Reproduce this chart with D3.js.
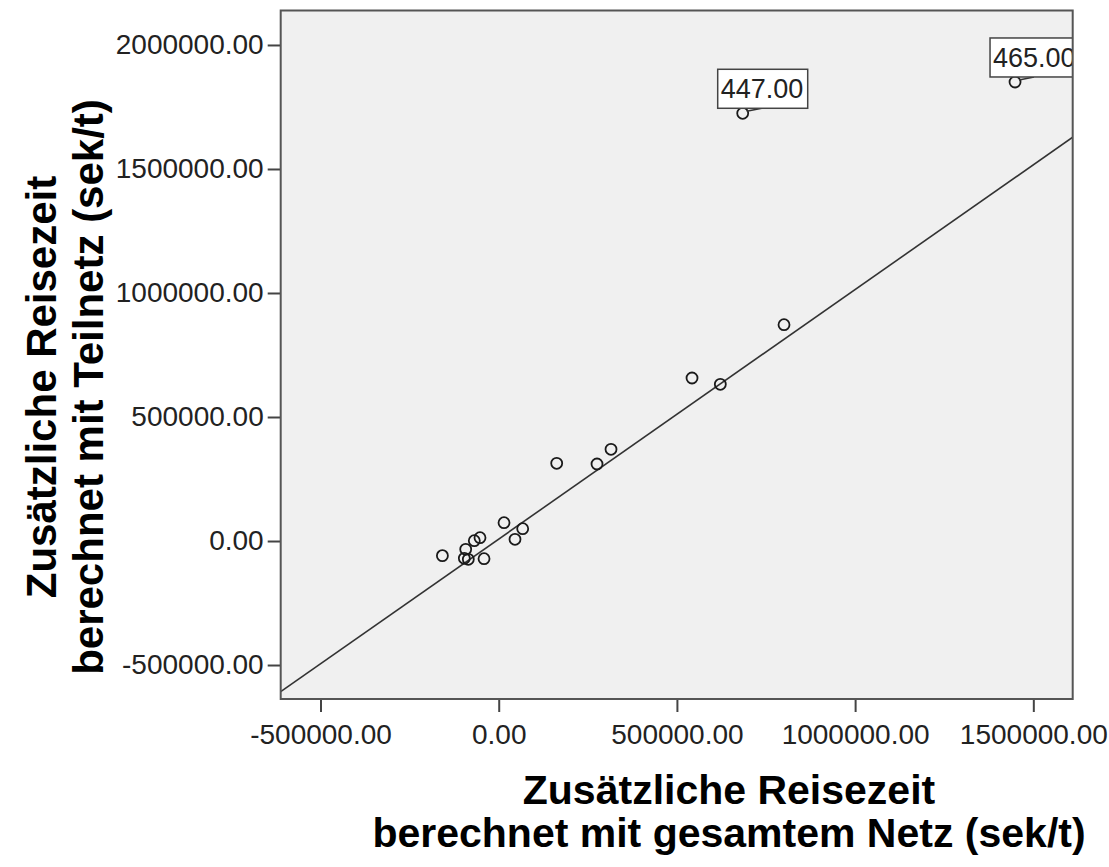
<!DOCTYPE html>
<html>
<head>
<meta charset="utf-8">
<script src="https://cdn.jsdelivr.net/npm/d3@7"></script>
<style>
  body { margin: 0; background: #fff; }
  text { font-family: "Liberation Sans", Arial, sans-serif; }
</style>
</head>
<body>
<div id="chart"></div>
<script>
// values (sek/t)
const gesamtNetz = [-158000, -92600, -96500, -85300, -68500, -52500, -41200, 14900, 45700, 67300,
                    162700, 275800, 315100, 542400, 621800, 800500, 684600, 1448700];
const teilNetz   = [-59000, -33500, -69800, -73800, 1200, 13300, -71400, 73800, 6900, 49600,
                    313300, 310500, 369800, 657300, 631900, 872200, 1724600, 1850800];
const pointLabels = ["", "", "", "", "", "", "", "", "", "", "", "", "", "", "", "", "447.00", "465.00"];

const xTicks = [-500000, 0, 500000, 1000000, 1500000];
const yTicks = [-500000, 0, 500000, 1000000, 1500000, 2000000];

// fit line
const fitIntercept = 7900;
const fitSlope = 1.006;

const xDomain = [-611700, 1610500];
const yDomain = [-637000, 2139000];

const xTitle = ["Zusätzliche Reisezeit", "berechnet mit gesamtem Netz (sek/t)"];
const yTitle = ["Zusätzliche Reisezeit", "berechnet mit Teilnetz (sek/t)"];

const width = 1109, height = 867;
const plot = { left: 280.7, right: 1072.7, top: 10.5, bottom: 699 };

const fmt = d => d3.format(".2f")(d).replace("\u2212", "-");

const svg = d3.select("#chart")
    .append("svg")
    .attr("width", width)
    .attr("height", height);

const x = d3.scaleLinear().domain(xDomain).range([plot.left, plot.right]);
const y = d3.scaleLinear().domain(yDomain).range([plot.bottom, plot.top]);

svg.append("defs").append("clipPath")
    .attr("id", "plotClip")
    .append("rect")
    .attr("x", plot.left)
    .attr("y", plot.top)
    .attr("width", plot.right - plot.left)
    .attr("height", plot.bottom - plot.top);

// plot background
svg.append("rect")
    .attr("x", plot.left)
    .attr("y", plot.top)
    .attr("width", plot.right - plot.left)
    .attr("height", plot.bottom - plot.top)
    .attr("fill", "#f0f0f0");

// axes
const xAxis = svg.append("g")
    .attr("transform", `translate(0,${plot.bottom})`)
    .call(d3.axisBottom(x).tickValues(xTicks).tickSize(13).tickPadding(12).tickFormat(fmt));

const yAxis = svg.append("g")
    .attr("transform", `translate(${plot.left},0)`)
    .call(d3.axisLeft(y).tickValues(yTicks).tickSize(13).tickPadding(4).tickFormat(fmt));

[xAxis, yAxis].forEach(g => {
    g.select(".domain").remove();
    g.selectAll(".tick line").attr("stroke", "#444").attr("stroke-width", 2);
    g.selectAll(".tick text")
        .attr("fill", "#222")
        .style("font-size", "28px")
        .style("font-family", "\"Liberation Sans\", Arial, sans-serif");
});
xAxis.selectAll(".tick text").attr("dy", "0.71em");

const inner = svg.append("g").attr("clip-path", "url(#plotClip)");

// fit line
inner.append("line")
    .attr("x1", x(xDomain[0]))
    .attr("y1", y(fitIntercept + fitSlope * xDomain[0]))
    .attr("x2", x(xDomain[1]))
    .attr("y2", y(fitIntercept + fitSlope * xDomain[1]))
    .attr("stroke", "#333")
    .attr("stroke-width", 1.6);

const points = gesamtNetz.map((v, i) => ({ gx: v, ty: teilNetz[i], label: pointLabels[i] }));

// point markers
inner.selectAll(".dot")
    .data(points)
    .enter()
    .append("circle")
    .attr("class", "dot")
    .attr("cx", d => x(d.gx))
    .attr("cy", d => y(d.ty))
    .attr("r", 5.5)
    .attr("fill", "none")
    .attr("stroke", "#1a1a1a")
    .attr("stroke-width", 1.8);

// case labels
const labelled = points.filter(d => d.label !== "");
const boxW = 90, boxH = 39;

const lab = inner.selectAll(".case-label")
    .data(labelled)
    .enter()
    .append("g")
    .attr("class", "case-label");

lab.append("line")
    .attr("x1", d => x(d.gx) + 4)
    .attr("y1", d => y(d.ty) - 2)
    .attr("x2", d => x(d.gx) - 25 + 44)
    .attr("y2", d => y(d.ty) - 44 + boxH)
    .attr("stroke", "#333")
    .attr("stroke-width", 1.5);

lab.append("rect")
    .attr("x", d => x(d.gx) - 25)
    .attr("y", d => y(d.ty) - 44)
    .attr("width", boxW)
    .attr("height", boxH)
    .attr("fill", "#fff")
    .attr("stroke", "#444")
    .attr("stroke-width", 1.5);

lab.append("text")
    .attr("x", d => x(d.gx) - 25 + 3)
    .attr("y", d => y(d.ty) - 44 + 29)
    .attr("fill", "#222")
    .style("font-size", "27px")
    .text(d => d.label);

// frame
svg.append("rect")
    .attr("x", plot.left)
    .attr("y", plot.top)
    .attr("width", plot.right - plot.left)
    .attr("height", plot.bottom - plot.top)
    .attr("fill", "none")
    .attr("stroke", "#555")
    .attr("stroke-width", 2);

// axis titles
svg.append("text")
    .attr("x", 729)
    .attr("y", 804)
    .attr("text-anchor", "middle")
    .style("font-size", "41px")
    .style("font-weight", "bold")
    .selectAll("tspan")
    .data(xTitle)
    .enter()
    .append("tspan")
    .attr("x", 729)
    .attr("dy", (d, i) => i === 0 ? 0 : 43)
    .text(d => d);

svg.append("text")
    .attr("transform", "translate(56,387) rotate(-90)")
    .attr("text-anchor", "middle")
    .style("font-size", "42px")
    .style("font-weight", "bold")
    .selectAll("tspan")
    .data(yTitle)
    .enter()
    .append("tspan")
    .attr("x", 0)
    .attr("dy", (d, i) => i === 0 ? 0 : 47)
    .text(d => d);
</script>
</body>
</html>
